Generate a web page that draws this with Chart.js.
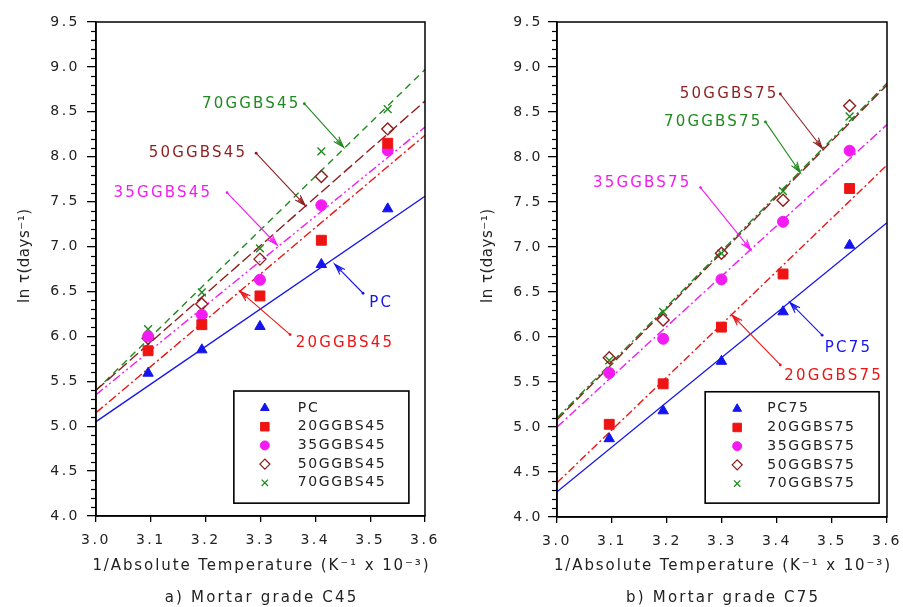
<!DOCTYPE html>
<html><head><meta charset="utf-8">
<script src="https://cdn.jsdelivr.net/npm/chart.js@4.4.1/dist/chart.umd.min.js"></script>
<style>
html,body{margin:0;padding:0;background:#fff;}
#wrap{display:flex;width:903px;height:607px;}
canvas{display:block;}
</style></head><body>
<div id="wrap"><canvas id="c45" width="450" height="607"></canvas><canvas id="c75" width="453" height="607"></canvas></div>
<script>
// ---------- DATA ----------
const invTemp = [3.095, 3.193, 3.299, 3.411, 3.532];   // 1/T (K^-1 x 10^-3)
const fitX = [3.0, 3.6];                                 // ends of fitted lines

// a) Mortar grade C45
const names45 = ['PC', '20GGBS45', '35GGBS45', '50GGBS45', '70GGBS45'];
const pc45   = [5.59, 5.85, 6.11, 6.80, 7.42];
const g20_45 = [5.84, 6.13, 6.45, 7.07, 8.15];
const g35_45 = [6.00, 6.24, 6.63, 7.46, 8.07];
const g50_45 = [5.98, 6.36, 6.86, 7.78, 8.31];
const g70_45 = [6.08, 6.49, 6.98, 8.06, 8.53];
const pc45Fit   = [5.05, 7.56];
const g20_45Fit = [5.15, 8.24];
const g35_45Fit = [5.35, 8.33];
const g50_45Fit = [5.40, 8.62];
const g70_45Fit = [5.40, 8.97];

// b) Mortar grade C75
const names75 = ['PC75', '20GGBS75', '35GGBS75', '50GGBS75', '70GGBS75'];
const pc75   = [4.87, 5.18, 5.73, 6.28, 7.02];
const g20_75 = [5.03, 5.48, 6.11, 6.70, 7.65];
const g35_75 = [5.60, 5.98, 6.64, 7.28, 8.07];
const g50_75 = [5.77, 6.19, 6.93, 7.52, 8.57];
const g70_75 = [5.74, 6.28, 6.93, 7.62, 8.45];
const pc75Fit  = [4.28, 7.27];
const g20_75Fit = [4.38, 7.91];
const g35_75Fit = [5.00, 8.36];
const g50_75Fit = [5.08, 8.80];
const g70_75Fit = [5.10, 8.82];

// axis ranges / ticks
const xMin = 3.0, xMax = 3.6, xStep = 0.1;
const yMin = 4.0, yMax = 9.5, yStep = 0.5, yMinor = 0.1;

// annotation labels (data coordinates): text centre, arrow start, arrow end
const notes45 = [
  {text:'70GGBS45', s:4, tx:3.281, ty:8.59, sx:3.380, sy:8.59, ex:3.451, ey:8.11},
  {text:'50GGBS45', s:3, tx:3.184, ty:8.04, sx:3.292, sy:8.04, ex:3.381, ey:7.46},
  {text:'35GGBS45', s:2, tx:3.120, ty:7.60, sx:3.239, sy:7.60, ex:3.330, ey:7.02},
  {text:'PC',       s:0, tx:3.518, ty:6.37, sx:3.487, sy:6.48, ex:3.436, ey:6.80},
  {text:'20GGBS45', s:1, tx:3.452, ty:5.93, sx:3.354, sy:6.02, ex:3.263, ey:6.50}
];
const notes75 = [
  {text:'50GGBS75', s:3, tx:3.311, ty:8.70, sx:3.406, sy:8.70, ex:3.482, ey:8.10},
  {text:'70GGBS75', s:4, tx:3.282, ty:8.39, sx:3.379, sy:8.39, ex:3.442, ey:7.83},
  {text:'35GGBS75', s:2, tx:3.153, ty:7.71, sx:3.261, sy:7.66, ex:3.352, ey:6.97},
  {text:'PC75',     s:0, tx:3.528, ty:5.88, sx:3.482, sy:6.02, ex:3.424, ey:6.38},
  {text:'20GGBS75', s:1, tx:3.501, ty:5.57, sx:3.406, sy:5.69, ex:3.319, ey:6.24}
];

// ---------- STYLES ----------
const FONT = 'DejaVu Sans';
const BLUE = '#1414ee', RED = '#ee1414', MAG = '#f21cf2', BROWN = '#8e1e1e', GREEN = '#1f8a1f';
const styles45 = [
  {color:BLUE,  ps:'triangle', r:6,   fill:true,  dash:[]},
  {color:RED,   ps:'rect',     r:7,   fill:true,  dash:[9,3,2,3]},
  {color:MAG,   ps:'circle',   r:5.5, fill:true,  dash:[9,3,2,3,2,3]},
  {color:BROWN, ps:'rectRot',  r:6,   fill:false, dash:[11,4]},
  {color:GREEN, ps:'crossRot', r:5.5, fill:false, dash:[7,5]}
];
const styles75 = [
  {color:BLUE,  ps:'triangle', r:6,   fill:true,  dash:[]},
  {color:RED,   ps:'rect',     r:7,   fill:true,  dash:[8,3,2,3]},
  {color:MAG,   ps:'circle',   r:5.5, fill:true,  dash:[9,3,2,3]},
  {color:BROWN, ps:'rectRot',  r:6,   fill:false, dash:[10,4]},
  {color:GREEN, ps:'crossRot', r:5.5, fill:false, dash:[8,3,2,3]}
];

function drawText(ctx, s, x, y, size, color, ls, align, rot){
  ctx.save();
  ctx.font = size + 'px "' + FONT + '"';
  ctx.fillStyle = color;
  ctx.letterSpacing = ls + 'px';
  ctx.textAlign = align || 'center';
  ctx.textBaseline = 'middle';
  ctx.translate(x, y);
  if (rot) ctx.rotate(rot);
  const dx = (ctx.textAlign === 'center') ? ls / 2 : 0;
  ctx.fillText(s, dx, 0);
  ctx.restore();
}

function drawMarker(ctx, st, x, y){
  ctx.save();
  ctx.fillStyle = st.fill ? st.color : 'rgba(255,255,255,0)';
  ctx.strokeStyle = st.color;
  ctx.lineWidth = st.fill ? 1 : 1.3;
  if (Chart.helpers && Chart.helpers.drawPoint) {
    Chart.helpers.drawPoint(ctx, {pointStyle: st.ps, radius: st.r - 1, rotation: 0, borderWidth: ctx.lineWidth}, x, y);
  }
  ctx.restore();
}

const TICK_LS = '2.5px';
const TXT = '#222';
const panelPlugin = {
  id: 'panel',
  beforeLayout(chart){ chart.ctx.letterSpacing = TICK_LS; },
  beforeDraw(chart){ chart.ctx.letterSpacing = TICK_LS; },
  afterDraw(chart, args, o){
    const ctx = chart.ctx, a = chart.chartArea, xs = chart.scales.x, ys = chart.scales.y;
    ctx.save();
    ctx.letterSpacing = '0px';
    // frame
    ctx.strokeStyle = '#000'; ctx.lineWidth = 1.5; ctx.setLineDash([]);
    ctx.strokeRect(a.left, a.top, a.right - a.left, a.bottom - a.top);
    // minor y ticks
    ctx.lineWidth = 1.2;
    const n0 = Math.round(yMin / yMinor), n1 = Math.round(yMax / yMinor), per = Math.round(yStep / yMinor);
    for (let i = n0; i <= n1; i++) {
      if (i % per === 0) continue;
      const py = Math.round(ys.getPixelForValue(i * yMinor)) + 0.5;
      ctx.beginPath(); ctx.moveTo(a.left - 5, py); ctx.lineTo(a.left, py); ctx.stroke();
    }
    // annotations with arrows
    o.notes.forEach(nt => {
      const st = o.styles[nt.s];
      const sx = xs.getPixelForValue(nt.sx), sy = ys.getPixelForValue(nt.sy);
      const ex = xs.getPixelForValue(nt.ex), ey = ys.getPixelForValue(nt.ey);
      ctx.strokeStyle = st.color; ctx.lineWidth = 1.1;
      ctx.beginPath(); ctx.moveTo(sx, sy); ctx.lineTo(ex, ey); ctx.stroke();
      const ang = Math.atan2(ey - sy, ex - sx), L = 11, w = 0.32;
      ctx.beginPath();
      ctx.moveTo(ex - L * Math.cos(ang - w), ey - L * Math.sin(ang - w));
      ctx.lineTo(ex, ey);
      ctx.lineTo(ex - L * Math.cos(ang + w), ey - L * Math.sin(ang + w));
      ctx.stroke();
      ctx.beginPath();
      ctx.moveTo(ex - L * 0.8 * Math.cos(ang - w * 0.5), ey - L * 0.8 * Math.sin(ang - w * 0.5));
      ctx.lineTo(ex, ey);
      ctx.lineTo(ex - L * 0.8 * Math.cos(ang + w * 0.5), ey - L * 0.8 * Math.sin(ang + w * 0.5));
      ctx.stroke();
      ctx.beginPath(); ctx.arc(sx, sy, 1.4, 0, Math.PI * 2); ctx.fillStyle = st.color; ctx.fill();
      drawText(ctx, nt.text, xs.getPixelForValue(nt.tx), ys.getPixelForValue(nt.ty), 15, st.color, 2.2, 'center');
    });
    // legend box
    const W = a.right - a.left, H = a.bottom - a.top;
    const bx0 = a.left + o.legend[0] * W, by0 = a.top + o.legend[1] * H;
    const bx1 = a.left + o.legend[2] * W, by1 = a.top + o.legend[3] * H;
    ctx.fillStyle = '#fff';
    ctx.fillRect(bx0, by0, bx1 - bx0, by1 - by0);
    ctx.strokeStyle = '#000'; ctx.lineWidth = 1.6;
    ctx.strokeRect(bx0, by0, bx1 - bx0, by1 - by0);
    o.names.forEach((nm, i) => {
      const yy = by0 + 17 + i * 18.7;
      drawMarker(ctx, o.styles[i], bx0 + o.legendMarkX, yy);
      drawText(ctx, nm, bx0 + o.legendTextX, yy, 14, TXT, 1.6, 'left');
    });
    // titles and caption
    const cx = (a.left + a.right) / 2;
    drawText(ctx, 'ln \u03c4(days\u207b\u00b9)', o.yTitleX, 256, 15, TXT, 0.5, 'center', -Math.PI / 2);
    drawText(ctx, '1/Absolute Temperature (K\u207b\u00b9 x 10\u207b\u00b3)', cx, 566, 15, TXT, 1.9, 'center');
    drawText(ctx, o.caption, cx, 598, 15, TXT, 2.2, 'center');
    ctx.restore();
  }
};

function makePanel(id, names, pts, fits, styles, notes, caption, geo){
  const datasets = [];
  names.forEach((nm, i) => {
    const st = styles[i];
    datasets.push({
      label: nm + ' fit', data: fitX.map((x, j) => ({x: x, y: fits[i][j]})),
      showLine: true, borderColor: st.color, borderWidth: 1.4, borderDash: st.dash,
      pointRadius: 0, pointHoverRadius: 0, fill: false, order: 2
    });
    datasets.push({
      label: nm, data: invTemp.map((x, j) => ({x: x, y: pts[i][j]})),
      showLine: false, pointStyle: st.ps, pointRadius: st.r, pointHoverRadius: st.r,
      backgroundColor: st.fill ? st.color : 'rgba(255,255,255,0)', borderColor: st.color,
      borderWidth: st.fill ? 1 : 1.4, order: 1
    });
  });
  const tickFont = {family: FONT, size: 14};
  return new Chart(document.getElementById(id), {
    type: 'scatter',
    data: {datasets: datasets},
    plugins: [panelPlugin],
    options: {
      responsive: false, animation: false, devicePixelRatio: 1,
      layout: {padding: {left: 0, top: 22, right: geo.padRight, bottom: 0}},
      plugins: {
        legend: {display: false}, tooltip: {enabled: false},
        panel: {notes: notes, styles: styles, names: names, caption: caption,
                legend: geo.legend, legendMarkX: geo.legendMarkX, legendTextX: geo.legendTextX,
                yTitleX: geo.yTitleX}
      },
      scales: {
        x: {
          type: 'linear', min: xMin, max: xMax,
          afterFit: s => { s.height = geo.xHeight; s.paddingLeft = 0; s.paddingRight = 0; },
          ticks: {stepSize: xStep, autoSkip: false, maxRotation: 0, font: tickFont, color: TXT, padding: 10,
                  callback: v => Number(v).toFixed(1)},
          grid: {drawOnChartArea: false, drawTicks: true, tickLength: 6, color: '#000', lineWidth: 1.3},
          border: {display: true, color: '#000', width: 1.5}
        },
        y: {
          type: 'linear', min: yMin, max: yMax,
          afterFit: s => { s.width = geo.yWidth; s.paddingTop = 0; s.paddingBottom = 0; },
          ticks: {stepSize: yStep, font: tickFont, color: TXT, padding: geo.yPad,
                  callback: v => Number(v).toFixed(1)},
          grid: {drawOnChartArea: false, drawTicks: true, tickLength: 9, color: '#000', lineWidth: 1.3},
          border: {display: true, color: '#000', width: 1.5}
        }
      }
    }
  });
}

makePanel('c45', names45, [pc45, g20_45, g35_45, g50_45, g70_45],
  [pc45Fit, g20_45Fit, g35_45Fit, g50_45Fit, g70_45Fit], styles45, notes45, 'a) Mortar grade C45',
  {padRight: 25, yWidth: 96, xHeight: 91, yPad: 7, legend: [0.419, 0.747, 0.951, 0.974],
   legendMarkX: 31, legendTextX: 64, yTitleX: 25});
makePanel('c75', names75, [pc75, g20_75, g35_75, g50_75, g70_75],
  [pc75Fit, g20_75Fit, g35_75Fit, g50_75Fit, g70_75Fit], styles75, notes75, 'b) Mortar grade C75',
  {padRight: 16, yWidth: 107, xHeight: 90, yPad: 5, legend: [0.449, 0.747, 0.976, 0.972],
   legendMarkX: 32, legendTextX: 62, yTitleX: 38});
</script>
</body></html>
